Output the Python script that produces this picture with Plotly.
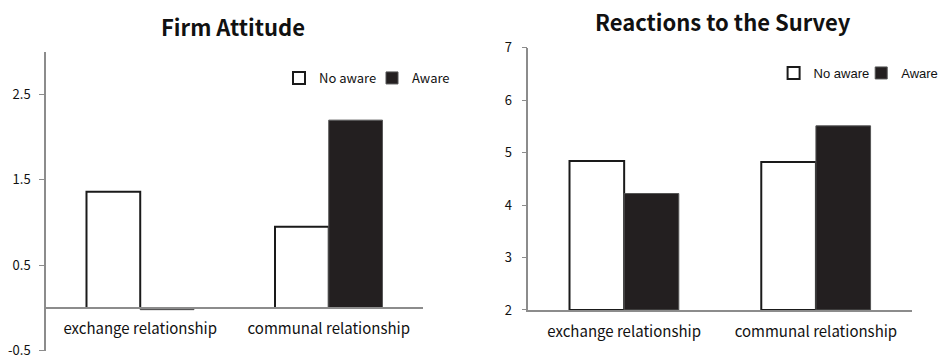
import plotly.graph_objects as go

categories = ["exchange relationship", "communal relationship"]
series_names = ["No aware", "Aware"]

firm_no_aware = [1.36, 0.95]
firm_aware = [-0.02, 2.20]

survey_no_aware = [4.84, 4.82]
survey_aware = [4.22, 5.51]

firm_ticks = [-0.5, 0.5, 1.5, 2.5]
firm_range = [-0.5, 3.0]
survey_ticks = [2, 3, 4, 5, 6, 7]
survey_range = [2, 7]
survey_base = 2

W, H = 940, 360
FONT = "Noto Sans CJK KR"
white_style = dict(color="white", line=dict(color="#1a1a1a", width=2))
black_style = dict(color="#231f20", line=dict(color="#555555", width=1))

# left plot vertical domain; the category axis sits at value 0
firm_domain = [0.026, 0.856]
zero_pos = firm_domain[0] + (0 - firm_range[0]) / (firm_range[1] - firm_range[0]) * (
    firm_domain[1] - firm_domain[0])

fig = go.Figure()

fig.add_trace(go.Bar(x=categories, y=firm_no_aware, name=series_names[0],
                     marker=white_style, xaxis="x", yaxis="y", legend="legend",
                     showlegend=True))
fig.add_trace(go.Bar(x=categories, y=firm_aware, name=series_names[1],
                     marker=black_style, xaxis="x", yaxis="y", legend="legend2",
                     showlegend=True))

fig.add_trace(go.Bar(x=categories, y=[v - survey_base for v in survey_no_aware],
                     base=survey_base, name=series_names[0],
                     marker=white_style, xaxis="x2", yaxis="y2", legend="legend3",
                     showlegend=True))
fig.add_trace(go.Bar(x=categories, y=[v - survey_base for v in survey_aware],
                     base=survey_base, name=series_names[1],
                     marker=black_style, xaxis="x2", yaxis="y2", legend="legend4",
                     showlegend=True))

axis_common = dict(showgrid=False, zeroline=False, showline=True, automargin=False,
                   linecolor="#8c8c8c", linewidth=1.5, ticklabeloverflow="allow")


def leg(px_left, px_y, family):
    return dict(orientation="h", x=px_left / W, xanchor="left",
                y=1 - px_y / H, yanchor="middle",
                font=dict(size=13, family=family, color="#111"), itemwidth=30,
                bgcolor="rgba(0,0,0,0)", borderwidth=0, visible=True)


fig.update_layout(
    template="none",
    showlegend=True,
    width=W, height=H,
    margin=dict(l=0, r=0, t=0, b=0, autoexpand=False),
    paper_bgcolor="white", plot_bgcolor="white",
    barmode="group", bargap=0.43, bargroupgap=0,
    font=dict(family=FONT, color="#111111"),
    xaxis=dict(domain=[0.0489, 0.45], anchor="free", position=zero_pos,
               ticks="", ticklabelstandoff=7,
               tickfont=dict(size=15, family=FONT, color="#111"),
               **axis_common),
    yaxis=dict(domain=firm_domain, range=firm_range, anchor="x",
               tickvals=firm_ticks, ticktext=[str(t) for t in firm_ticks],
               ticks="outside", ticklen=5, tickcolor="#8c8c8c", ticklabelstandoff=6,
               tickfont=dict(size=13, family=FONT, color="#111"),
               **axis_common),
    xaxis2=dict(domain=[0.562, 0.970], anchor="y2", layer="below traces",
                ticks="", ticklabelstandoff=7,
                tickfont=dict(size=15, family=FONT, color="#111"),
                **axis_common),
    yaxis2=dict(domain=[0.139, 0.8675], range=survey_range, anchor="x2",
                tickvals=survey_ticks,
                ticks="outside", ticklen=5, tickcolor="#8c8c8c", ticklabelstandoff=7,
                tickfont=dict(size=13, family=FONT, color="#111"),
                **axis_common),
    legend=leg(279, 78, FONT),
    legend2=leg(372, 78, FONT),
    legend3=leg(773.6, 73, "Liberation Sans"),
    legend4=leg(861.2, 73, "Liberation Sans"),
    annotations=[
        dict(text="<b>Firm Attitude</b>", x=233 / W, y=1 - 26 / H, xref="paper", yref="paper",
             xanchor="center", yanchor="middle", showarrow=False,
             font=dict(size=22, family=FONT, color="#111")),
        dict(text="<b>Reactions to the Survey</b>", x=723 / W, y=1 - 21 / H,
             xref="paper", yref="paper",
             xanchor="center", yanchor="middle", showarrow=False,
             font=dict(size=22, family=FONT, color="#111")),
    ],
)

fig.write_html("out.html", config={"displayModeBar": False},
               post_script="document.body.style.margin='0px';")
